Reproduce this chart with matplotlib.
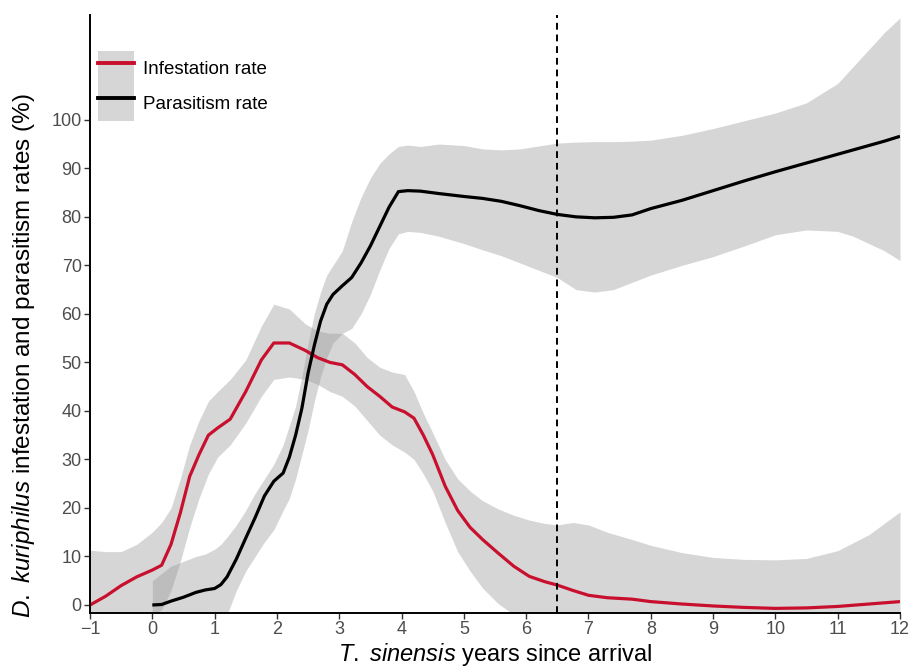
import matplotlib
matplotlib.use("Agg")
import matplotlib.pyplot as plt
from matplotlib.patches import Patch
from matplotlib.lines import Line2D
from matplotlib.legend_handler import HandlerTuple

plt.rcParams['font.family'] = ['Liberation Sans', 'DejaVu Sans']
plt.rcParams['mathtext.fontset'] = 'custom'
plt.rcParams['mathtext.rm'] = 'Liberation Sans'
plt.rcParams['mathtext.it'] = 'Liberation Sans:italic'

# ---- data: infestation rate (smoothed) ----
inf_x = [-1, -0.75, -0.5, -0.25, 0, 0.15, 0.3, 0.45, 0.6, 0.75, 0.9, 1.05, 1.25, 1.5, 1.75, 1.95,
         2.2, 2.45, 2.65, 2.85, 3.05, 3.25, 3.45, 3.65, 3.85, 4.05, 4.2, 4.35, 4.5, 4.7, 4.9,
         5.1, 5.3, 5.55, 5.8, 6.05, 6.3, 6.5, 6.75, 7.0, 7.3, 7.7, 8.0, 8.5, 9.0, 9.5, 10.0,
         10.5, 11.0, 11.5, 12.0]
inf_y = [0, 1.8, 4, 5.8, 7.2, 8.2, 12.5, 19, 26.5, 31, 35, 36.5, 38.3, 44, 50.5, 54,
         54, 52.5, 51, 50, 49.5, 47.5, 45, 43, 40.8, 39.8, 38.5, 35, 31, 24.5, 19.5,
         16, 13.5, 10.7, 8, 5.9, 4.8, 4.1, 3, 2, 1.5, 1.2, 0.7, 0.2, -0.2, -0.5, -0.7,
         -0.6, -0.3, 0.2, 0.7]
inf_hi = [11.3, 11, 11, 12.5, 15, 17, 20, 26, 33, 38, 42, 44, 46.5, 50.5, 57.5, 62,
          61, 58, 56.5, 56, 56, 54, 51, 49, 48, 47.5, 44, 39.5, 35.5, 30, 26,
          23.5, 21.5, 19.8, 18.5, 17.5, 16.8, 16.5, 17, 16.5, 15, 13.5, 12.3, 10.8, 9.8, 9.4, 9.3,
          9.6, 11.2, 14.5, 19.2]
inf_lo = [-2, -2, -2, -2, -2, -1, 3, 9, 16, 22, 27, 30.5, 33, 37.5, 43, 46.5,
          47, 46.5, 45.5, 44, 43, 41, 38, 35, 33, 31.5, 30, 27, 23.5, 17, 11,
          7, 3.5, 0.3, -2, -2, -2, -2, -2, -2, -2, -2, -2, -2, -2, -2, -2,
          -2, -2, -2, -2]

# ---- data: parasitism rate (smoothed) ----
par_x = [0, 0.15, 0.3, 0.5, 0.7, 0.85, 1.0, 1.1, 1.2, 1.35, 1.5, 1.65, 1.8, 1.95, 2.1, 2.2,
         2.3, 2.4, 2.5, 2.6, 2.7, 2.8, 2.9, 3.05, 3.2, 3.35, 3.5, 3.65, 3.8, 3.95, 4.1, 4.3,
         4.6, 5.0, 5.3, 5.6, 5.9, 6.2, 6.5, 6.8, 7.1, 7.4, 7.7, 8.0, 8.5, 9.0, 9.5, 10.0,
         10.5, 11.0, 11.25, 11.5, 11.75, 12.0]
par_y = [0, 0.1, 0.8, 1.6, 2.6, 3.1, 3.4, 4.2, 5.8, 9.5, 13.8, 18, 22.5, 25.5, 27.2, 30.5,
         35, 40.5, 47.8, 53.5, 58.5, 62, 64, 65.8, 67.5, 70.5, 74, 78, 82, 85.2, 85.4, 85.3,
         84.8, 84.2, 83.8, 83.2, 82.3, 81.3, 80.5, 80, 79.8, 79.9, 80.4, 81.7, 83.4, 85.4, 87.4, 89.3,
         91.1, 92.9, 93.8, 94.7, 95.6, 96.6]
par_hi = [5, 6.5, 8, 9, 10, 10.5, 11.5, 12.5, 14, 16.5, 19.5, 23, 26, 29, 33, 37,
          41, 47, 54, 60, 64.5, 68, 70, 73, 79, 84, 88, 91, 93, 94.5, 94.8, 94.5,
          95, 94.7, 94, 93.8, 94, 94.6, 95.2, 95.4, 95.5, 95.5, 95.6, 95.8, 96.8, 98.2, 99.8, 101.4,
          103.5, 107.5, 111, 114.5, 118, 121]
par_lo = [-2, -2, -2, -2, -2, -2, -2, -2, -2, 3, 7, 10, 13, 15.5, 19.5, 22,
          26, 31, 36, 42, 47, 51, 54, 56, 57, 60, 64, 69, 73.5, 76.5, 77, 76.8,
          76, 74.5, 73.2, 72, 70.5, 69, 67.5, 65, 64.5, 65, 66.5, 68, 70, 71.8, 74, 76.3,
          77.3, 77, 76, 74.5, 73, 71]

arrival_line = 6.5
x_ticks = list(range(-1, 13))
y_ticks = list(range(0, 101, 10))
labels = ["Infestation rate", "Parasitism rate"]

red = '#C8102E'
band_color = '#999999'
band_alpha = 0.4

fig = plt.figure(figsize=(9.12, 6.71), dpi=100)
ax = fig.add_axes([90/912, (671-613)/671, 810/912, (613-15)/671])

ax.fill_between(inf_x, inf_lo, inf_hi, color=band_color, alpha=band_alpha, lw=0)
ax.fill_between(par_x, par_lo, par_hi, color=band_color, alpha=band_alpha, lw=0)
ax.plot(inf_x, inf_y, color=red, lw=2.3, solid_capstyle='butt')
ax.plot(par_x, par_y, color='black', lw=2.3, solid_capstyle='butt')
ax.axvline(arrival_line, color='black', lw=1.4, ls=(0, (3.5, 2.5)))

ax.set_xlim(-1, 12)
ax.set_ylim(-1.65, 121.6)
ax.set_xticks(x_ticks)
ax.set_yticks(y_ticks)

for s in ['top', 'right']:
    ax.spines[s].set_visible(False)
for s in ['left', 'bottom']:
    ax.spines[s].set_linewidth(1.4)
    ax.spines[s].set_color('black')
ax.tick_params(axis='both', direction='out', length=4, width=1.0, color='#333333',
               labelcolor='#4d4d4d', labelsize=13, pad=2)

ax.set_xlabel(r'$\mathit{T.\ sinensis}$ years since arrival', fontsize=17, labelpad=2)
ax.set_ylabel(r'$\mathit{D.\ kuriphilus}$ infestation and parasitism rates (%)', fontsize=17.5)
ax.yaxis.set_label_coords(-0.066, 0.431)

handles = [(Patch(facecolor=band_color, alpha=band_alpha, edgecolor='none'),
            Line2D([], [], color=red, lw=2.8)),
           (Patch(facecolor=band_color, alpha=band_alpha, edgecolor='none'),
            Line2D([], [], color='black', lw=2.8))]
leg = ax.legend(handles, labels, handler_map={tuple: HandlerTuple(ndivide=1, pad=0)},
                loc='upper left', bbox_to_anchor=(0.01, 0.94), frameon=False,
                fontsize=13.5, handlelength=1.9, handleheight=2.5, labelspacing=0,
                handletextpad=0.5, borderpad=0, borderaxespad=0)

fig.savefig('out.png', dpi=100)
